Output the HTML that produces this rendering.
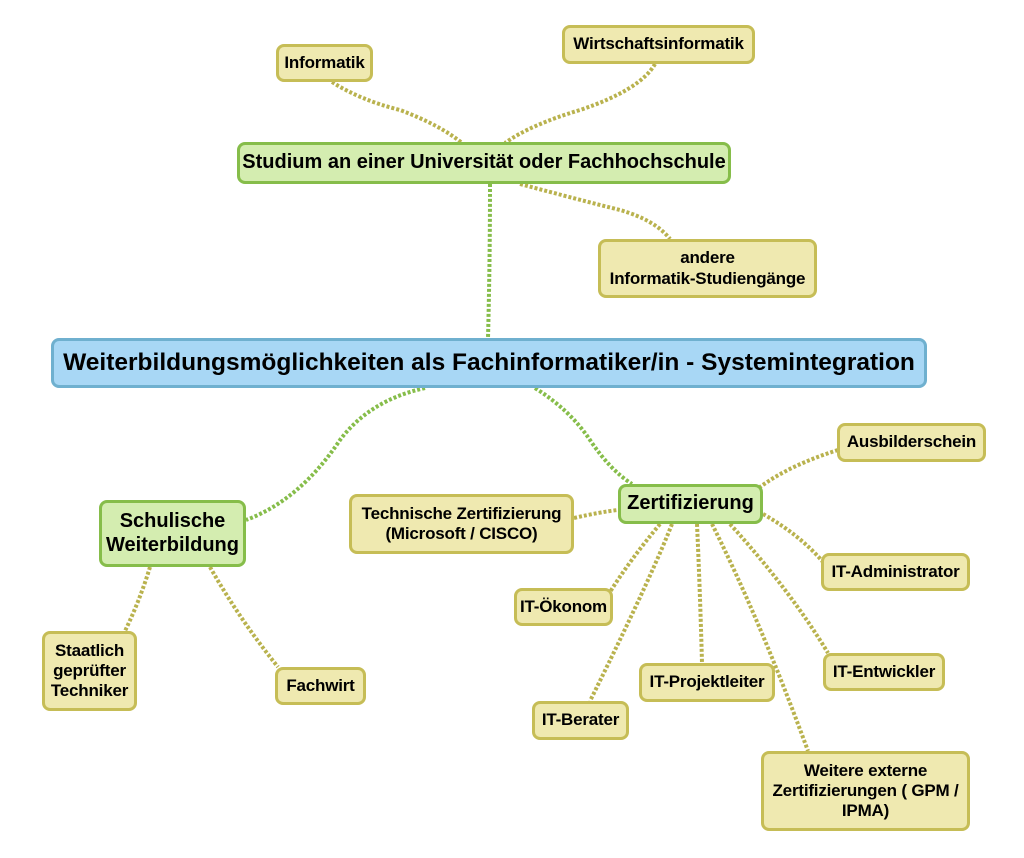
<!DOCTYPE html>
<html><head><meta charset="utf-8"><style>
body{margin:0;background:#fff;width:1024px;height:858px;overflow:hidden;font-family:"Liberation Sans",sans-serif}
.b{position:absolute;box-sizing:border-box;border-radius:8px;display:flex;align-items:center;justify-content:center;text-align:center;font-weight:bold;color:#000;line-height:1.18;white-space:nowrap}
.y{background:#efe9b0;border:3px solid #c6bd56;font-size:17px;letter-spacing:-0.2px}
.g{background:#d4edb0;border:3px solid #86bd4a;font-size:20px}
.m{background:#a8d7f5;border:3px solid #6fb0cf;font-size:24.5px}
svg{position:absolute;left:0;top:0}
</style></head><body>
<svg width="1024" height="858" fill="none" stroke-width="4" stroke-dasharray="3 2">
<g stroke="#b9b24e">
<path d="M332 82 Q360 100 400 110 Q440 125 462 143"/>
<path d="M655 64 Q640 90 580 110 Q530 125 505 143"/>
<path d="M520 184 Q580 200 620 210 Q655 220 670 239"/>
<path d="M150 567 Q140 600 125 631"/>
<path d="M210 567 Q240 620 278 667"/>
<path d="M838 450 Q790 465 760 487"/>
<path d="M763 514 Q800 535 823 562"/>
<path d="M574 518 Q600 512 618 510"/>
<path d="M660 524 Q630 560 610 592"/>
<path d="M672 524 Q650 580 590 701"/>
<path d="M697 524 Q700 590 702 663"/>
<path d="M712 524 Q760 620 808 751"/>
<path d="M730 524 Q790 590 828 653"/>
</g>
<g stroke="#86bd4a">
<path d="M490 184 Q490 260 488 338"/>
<path d="M425 388 Q370 400 340 440 Q300 500 246 520"/>
<path d="M535 388 Q570 410 590 440 Q610 470 632 484"/>
</g>
</svg>
<div class="b y" style="left:276px;top:44px;width:97px;height:38px">Informatik</div>
<div class="b y" style="left:562px;top:25px;width:193px;height:39px">Wirtschaftsinformatik</div>
<div class="b g" style="left:237px;top:142px;width:494px;height:42px">Studium an einer Universität oder Fachhochschule</div>
<div class="b y" style="left:598px;top:239px;width:219px;height:59px">andere<br>Informatik-Studiengänge</div>
<div class="b m" style="left:51px;top:338px;width:876px;height:50px">Weiterbildungsmöglichkeiten als Fachinformatiker/in - Systemintegration</div>
<div class="b g" style="left:99px;top:500px;width:147px;height:67px">Schulische<br>Weiterbildung</div>
<div class="b g" style="left:618px;top:484px;width:145px;height:40px">Zertifizierung</div>
<div class="b y" style="left:349px;top:494px;width:225px;height:60px">Technische Zertifizierung<br>(Microsoft / CISCO)</div>
<div class="b y" style="left:837px;top:423px;width:149px;height:39px">Ausbilderschein</div>
<div class="b y" style="left:821px;top:553px;width:149px;height:38px">IT-Administrator</div>
<div class="b y" style="left:514px;top:588px;width:99px;height:38px">IT-Ökonom</div>
<div class="b y" style="left:823px;top:653px;width:122px;height:38px">IT-Entwickler</div>
<div class="b y" style="left:639px;top:663px;width:136px;height:39px">IT-Projektleiter</div>
<div class="b y" style="left:532px;top:701px;width:97px;height:39px">IT-Berater</div>
<div class="b y" style="left:761px;top:751px;width:209px;height:80px">Weitere externe<br>Zertifizierungen ( GPM /<br>IPMA)</div>
<div class="b y" style="left:42px;top:631px;width:95px;height:80px">Staatlich<br>geprüfter<br>Techniker</div>
<div class="b y" style="left:275px;top:667px;width:91px;height:38px">Fachwirt</div>
</body></html>
